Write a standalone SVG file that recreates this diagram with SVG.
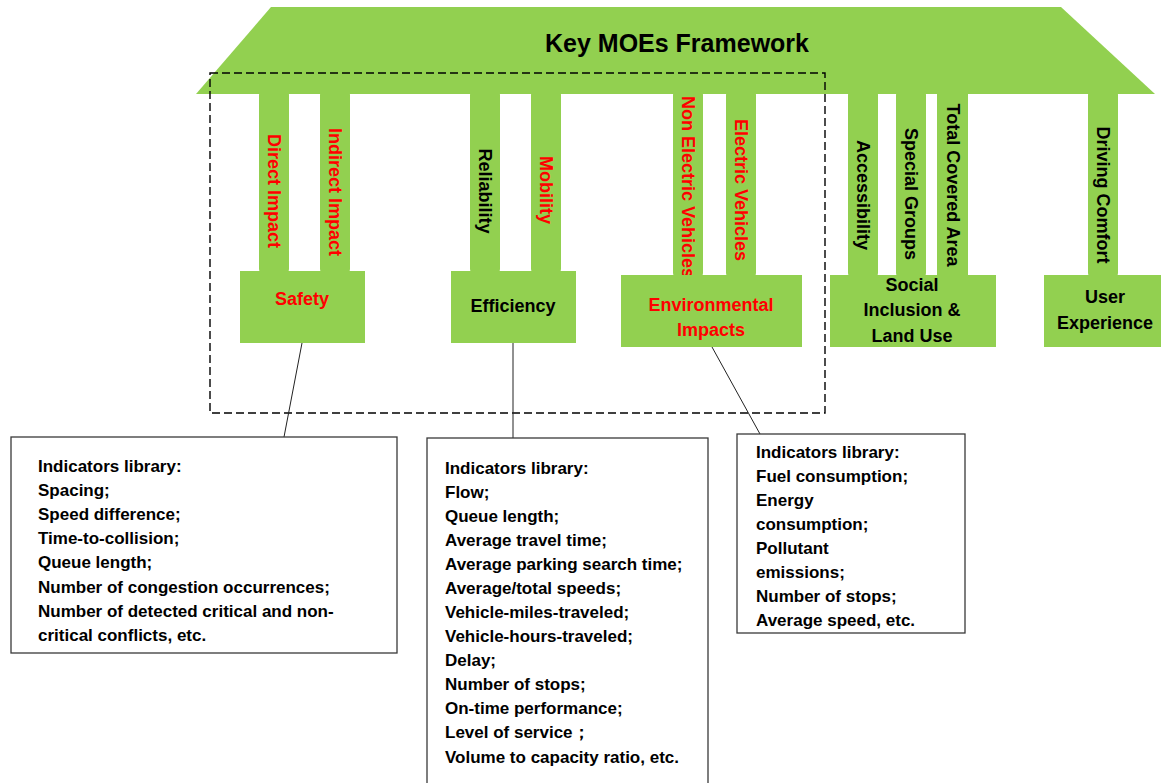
<svg xmlns="http://www.w3.org/2000/svg" width="1161" height="783" viewBox="0 0 1161 783">
  <style>
    .g { fill: #92D050; }
    .lbl { font-family: "Liberation Sans", Arial, sans-serif; font-weight: bold; font-size: 18px; text-anchor: middle; }
    .red { fill: #FF0000; }
    .blk { fill: #000000; }
    .box { fill: #FFFFFF; stroke: #3a3a3a; stroke-width: 1.3; }
    .lib { font-family: "Liberation Sans", Arial, sans-serif; font-weight: bold; font-size: 17px; fill: #000; }
    .conn { stroke: #222; stroke-width: 1; fill: none; }
  </style>
  <rect x="0" y="0" width="1161" height="783" fill="#FFFFFF"/>

  <g id="pillars">
    <rect class="g" x="259" y="86" width="30" height="192" rx="9"/>
    <rect class="g" x="320" y="86" width="30" height="192" rx="9"/>
    <rect class="g" x="470" y="86" width="30" height="192" rx="9"/>
    <rect class="g" x="531" y="86" width="30" height="192" rx="9"/>
    <rect class="g" x="673" y="86" width="30" height="196" rx="9"/>
    <rect class="g" x="726" y="86" width="30" height="196" rx="9"/>
    <rect class="g" x="848" y="86" width="30" height="196" rx="9"/>
    <rect class="g" x="896" y="86" width="30" height="196" rx="9"/>
    <rect class="g" x="937" y="86" width="31" height="196"/>
    <rect class="g" x="1088" y="86" width="30" height="196" rx="9"/>
  </g>

  <g id="roof">
    <polygon class="g" points="271,7 1061,7 1155,94 196,94"/>
    <text x="677" y="52" font-family="'Liberation Sans', Arial, sans-serif" font-weight="bold" font-size="25" text-anchor="middle" fill="#000">Key MOEs Framework</text>
  </g>

  <g id="pillar-labels">
    <text class="lbl red" transform="translate(274,191) rotate(90)" y="6">Direct Impact</text>
    <text class="lbl red" transform="translate(335,192) rotate(90)" y="6">Indirect Impact</text>
    <text class="lbl blk" transform="translate(485,191) rotate(90)" y="6">Reliability</text>
    <text class="lbl red" transform="translate(546,190) rotate(90)" y="6">Mobility</text>
    <text class="lbl red" transform="translate(688,187) rotate(90)" y="6">Non Electric Vehicles</text>
    <text class="lbl red" transform="translate(741,190) rotate(90)" y="6">Electric Vehicles</text>
    <text class="lbl blk" transform="translate(863,195) rotate(90)" y="6">Accessibility</text>
    <text class="lbl blk" transform="translate(911,194) rotate(90)" y="6">Special Groups</text>
    <text class="lbl blk" transform="translate(953,185) rotate(90)" y="6">Total Covered Area</text>
    <text class="lbl blk" transform="translate(1103,195) rotate(90)" y="6">Driving Comfort</text>
  </g>

  <g id="safety">
    <rect class="g" x="240" y="271" width="125" height="72"/>
    <text class="lbl red" x="302" y="305">Safety</text>
  </g>
  <g id="efficiency">
    <rect class="g" x="451" y="271" width="125" height="72"/>
    <text class="lbl blk" x="513" y="312">Efficiency</text>
  </g>
  <g id="environmental">
    <rect class="g" x="621" y="275" width="181" height="72"/>
    <text class="lbl red" x="711" y="311">Environmental</text>
    <text class="lbl red" x="711" y="336">Impacts</text>
  </g>
  <g id="social">
    <rect class="g" x="830" y="275" width="166" height="72"/>
    <text class="lbl blk" x="912" y="291">Social</text>
    <text class="lbl blk" x="912" y="316">Inclusion &amp;</text>
    <text class="lbl blk" x="912" y="342">Land Use</text>
  </g>
  <g id="user-experience">
    <rect class="g" x="1044" y="275" width="117" height="72"/>
    <text class="lbl blk" x="1105" y="303">User</text>
    <text class="lbl blk" x="1105" y="329">Experience</text>
  </g>

  <g id="group-frame">
    <rect x="210" y="73" width="615" height="340" fill="none" stroke="#000" stroke-width="1.4" stroke-dasharray="8,4"/>
  </g>

  <g id="connectors">
    <line class="conn" x1="302" y1="343" x2="284" y2="437"/>
    <line class="conn" x1="513" y1="343" x2="513" y2="438"/>
    <line class="conn" x1="712" y1="347" x2="760" y2="434"/>
  </g>

  <g id="safety-library">
    <rect class="box" x="11" y="437" width="386" height="216"/>
    <text class="lib" x="38" y="472">Indicators library:</text>
    <text class="lib" x="38" y="496">Spacing;</text>
    <text class="lib" x="38" y="520">Speed difference;</text>
    <text class="lib" x="38" y="544">Time-to-collision;</text>
    <text class="lib" x="38" y="568">Queue length;</text>
    <text class="lib" x="38" y="593">Number of congestion occurrences;</text>
    <text class="lib" x="38" y="617">Number of detected critical and non-</text>
    <text class="lib" x="38" y="641">critical conflicts, etc.</text>
  </g>

  <g id="efficiency-library">
    <rect class="box" x="427" y="438" width="281" height="360"/>
    <text class="lib" x="445" y="474">Indicators library:</text>
    <text class="lib" x="445" y="498">Flow;</text>
    <text class="lib" x="445" y="522">Queue length;</text>
    <text class="lib" x="445" y="546">Average travel time;</text>
    <text class="lib" x="445" y="570">Average parking search time;</text>
    <text class="lib" x="445" y="594">Average/total speeds;</text>
    <text class="lib" x="445" y="618">Vehicle-miles-traveled;</text>
    <text class="lib" x="445" y="642">Vehicle-hours-traveled;</text>
    <text class="lib" x="445" y="666">Delay;</text>
    <text class="lib" x="445" y="690">Number of stops;</text>
    <text class="lib" x="445" y="714">On-time performance;</text>
    <text class="lib" x="445" y="738">Level of service；</text>
    <text class="lib" x="445" y="763">Volume to capacity ratio, etc.</text>
  </g>

  <g id="environmental-library">
    <rect class="box" x="737" y="434" width="228" height="199"/>
    <text class="lib" x="756" y="458">Indicators library:</text>
    <text class="lib" x="756" y="482">Fuel consumption;</text>
    <text class="lib" x="756" y="506">Energy</text>
    <text class="lib" x="756" y="530">consumption;</text>
    <text class="lib" x="756" y="554">Pollutant</text>
    <text class="lib" x="756" y="578">emissions;</text>
    <text class="lib" x="756" y="602">Number of stops;</text>
    <text class="lib" x="756" y="626">Average speed, etc.</text>
  </g>
</svg>
